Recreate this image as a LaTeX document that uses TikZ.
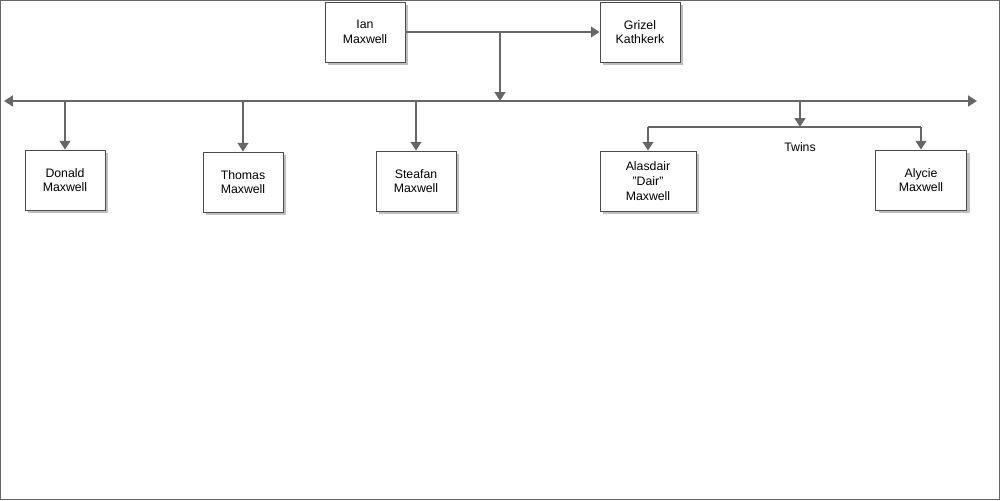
\documentclass[tikz,border=0pt]{standalone}
\usepackage{fontspec}
\setmainfont{Liberation Sans}
\usetikzlibrary{arrows.meta,shadows}
\definecolor{lineGray}{HTML}{666666}
\tikzset{
  person/.style={draw=black!70, fill=white, minimum width=1.6cm, minimum height=1.2cm,
    align=center, font=\fontsize{7}{8.4}\selectfont, inner sep=1pt,
    drop shadow={shadow xshift=0.06cm, shadow yshift=-0.06cm, fill=black!25, opacity=1}},
  link/.style={draw=lineGray, line width=1.6pt, -{Triangle[length=5pt,width=6pt]}},
  bar/.style={draw=lineGray, line width=1.6pt}
}
\begin{document}
\begin{tikzpicture}[x=0.02cm, y=-0.02cm]
  \useasboundingbox (0,0) rectangle (1000,500);
  \draw[black!60, line width=0.5pt] (0.5,0.5) rectangle (999.5,499.5);
  % Parents
  \node[person] (ian) at (365,32) {Ian\\Maxwell};
  \node[person] (grizel) at (640,32) {Grizel\\Kathkerk};
  % Children
  \node[person] (donald) at (65,180) {Donald\\Maxwell};
  \node[person] (thomas) at (243,182) {Thomas\\Maxwell};
  \node[person] (steafan) at (416,181) {Steafan\\Maxwell};
  \node[person, minimum width=1.92cm] (alasdair) at (648,181) {Alasdair\\"Dair"\\Maxwell};
  \node[person, minimum width=1.82cm] (alycie) at (921,180) {Alycie\\Maxwell};
  % Coordinates
  \coordinate (mid) at (500,32);
  \coordinate (hub) at (500,101);
  \coordinate (leftEnd) at (4,101);
  \coordinate (rightEnd) at (977,101);
  \coordinate (twinTop) at (800,101);
  \coordinate (twinHub) at (800,127);
  % Connectors
  \draw[link] (ian.east) -- (grizel.west);
  \draw[link] (mid) -- (hub);
  \draw[link] (hub) -- (leftEnd);
  \draw[link] (hub) -- (rightEnd);
  \foreach \kid in {donald,thomas,steafan}
    \draw[link] (hub -| \kid.north) -- (\kid.north);
  \draw[link] (twinTop) -- (twinHub);
  \draw[bar] (twinHub -| alasdair.north) -- (twinHub -| alycie.north);
  \draw[link] (twinHub -| alasdair.north) -- (alasdair.north);
  \draw[link] (twinHub -| alycie.north) -- (alycie.north);
  \node[font=\fontsize{7}{8.4}\selectfont] (twins) at (800,147) {Twins};
\end{tikzpicture}
\end{document}
